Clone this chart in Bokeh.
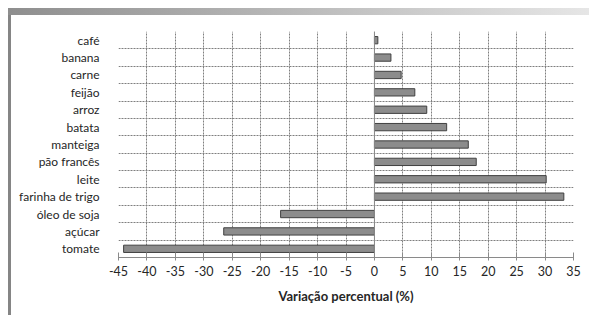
from bokeh.plotting import figure
from bokeh.models import FixedTicker, Span, Grid, Range1d
from bokeh.embed import file_html
from bokeh.resources import INLINE

categories = ["café", "banana", "carne", "feijão", "arroz", "batata", "manteiga",
              "pão francês", "leite", "farinha de trigo", "óleo de soja", "açúcar", "tomate"]
values = [0.6, 2.9, 4.7, 7.1, 9.2, 12.7, 16.5, 17.9, 30.2, 33.3, -16.5, -26.5, -44.1]
x_ticks = list(range(-45, 40, 5))

n = len(categories)
# bottom-to-top positions: last category at the bottom
ypos = [n - 1 - i for i in range(n)]

FONT = "Lato"
TXT = "#262626"

p = figure(width=589, height=315, output_backend="svg", toolbar_location=None,
           x_range=Range1d(-45, 35), y_range=Range1d(-0.5, n - 0.5),
           min_border_left=118, min_border_right=16, min_border_top=31, min_border_bottom=58)
p.border_fill_color = None
p.background_fill_color = "white"
p.outline_line_color = None
p.styles = {"background": "linear-gradient(to right, #8e8e8e, #e6e6e6) 8px 8px / calc(100% - 8px) 7px no-repeat, "
                          "linear-gradient(#858585, #858585) 8px 8px / 3px calc(100% - 8px) no-repeat, #ffffff"}

p.hbar(y=ypos, right=values, left=0, height=0.42, fill_color="#8c8c8c",
       line_color="#404040", line_width=1)

# x axis
p.xaxis.ticker = FixedTicker(ticks=x_ticks)
p.xaxis.major_label_overrides = {t: str(t) for t in x_ticks}
p.xaxis.axis_line_color = "#8a8a8a"
p.xaxis.major_tick_line_color = "#8a8a8a"
p.xaxis.major_tick_in = 5
p.xaxis.major_tick_out = 3
p.xaxis.minor_tick_line_color = None
p.xaxis.major_label_standoff = 5
p.xaxis.major_label_text_font = FONT
p.xaxis.major_label_text_font_size = "12.5px"
p.xaxis.major_label_text_color = TXT
p.xaxis.axis_label = "Variação percentual (%)"
p.xaxis.axis_label_text_font = FONT
p.xaxis.axis_label_text_font_size = "13px"
p.xaxis.axis_label_text_font_style = "bold"
p.xaxis.axis_label_text_color = TXT
p.xaxis.axis_label_standoff = 9

# y axis (category labels)
p.yaxis.ticker = FixedTicker(ticks=ypos)
p.yaxis.major_label_overrides = {y: c for y, c in zip(ypos, categories)}
p.yaxis.axis_line_color = None
p.yaxis.major_tick_line_color = None
p.yaxis.minor_tick_line_color = None
p.yaxis.major_label_standoff = 13
p.yaxis.major_label_text_font = FONT
p.yaxis.major_label_text_font_size = "12px"
p.yaxis.major_label_text_color = TXT

# grids: dotted, vertical at x ticks, horizontal at category boundaries
p.xgrid.grid_line_color = "#7f7f7f"
p.xgrid.grid_line_dash = "2 1"
p.xgrid.grid_line_width = 1
p.ygrid.visible = False
hgrid = Grid(dimension=1, ticker=FixedTicker(ticks=[k + 0.5 for k in range(n)]),
             grid_line_color="#7f7f7f", grid_line_dash="2 1", grid_line_width=1)
p.add_layout(hgrid)

p.add_layout(Span(location=0, dimension="height", line_color="#8a8a8a", line_width=1))

open("out.html", "w").write(file_html(p, INLINE))
